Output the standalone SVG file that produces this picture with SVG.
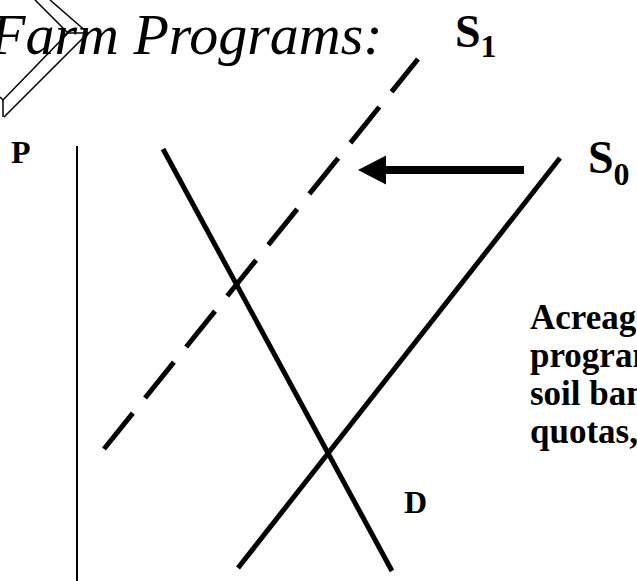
<svg xmlns="http://www.w3.org/2000/svg" width="637" height="581" viewBox="0 0 637 581">
<defs>
<style>
.lbl{font-family:"Liberation Serif","Times New Roman",serif;font-weight:bold;fill:#000}
.curve{stroke:#000;stroke-width:5;fill:none}
.thin{stroke:#000;stroke-width:1.5;fill:none}
</style>
</defs>
<rect width="637" height="581" fill="#fff"/>
<g id="chevron">
<polyline class="thin" points="35,0 68,33 3,100 0,97"/>
<polyline class="thin" points="50,0 88,33 4,117"/>
<line class="thin" x1="68" y1="33" x2="88" y2="33"/>
<line class="thin" x1="3" y1="100" x2="3" y2="117"/>
</g>
<g id="title">
<text x="-10" y="54" font-family="Liberation Serif, serif" font-style="italic" font-size="58">Farm Programs:</text>
</g>
<g id="axis">
<line x1="77" y1="146" x2="77" y2="581" stroke="#000" stroke-width="2"/>
<text class="lbl" x="11" y="163" font-size="32">P</text>
</g>
<g id="connectors">
<line id="D" class="curve" x1="163" y1="149" x2="392" y2="571"/>
<line id="S0" class="curve" x1="560" y1="158" x2="238" y2="568"/>
<line id="S1" class="curve" x1="104" y1="449" x2="418" y2="59" stroke-dasharray="46 19.5"/>
<g id="shift-arrow">
<rect x="385" y="166" width="139" height="8" fill="#000"/>
<polygon points="358,170 386,155.5 386,184.5" fill="#000"/>
</g>
</g>
<g id="label-S1"><text class="lbl" x="455" y="47" font-size="46">S<tspan font-size="32" dy="10">1</tspan></text></g>
<g id="label-S0"><text class="lbl" x="588" y="173" font-size="46">S<tspan font-size="32" dy="12">0</tspan></text></g>
<g id="label-D"><text class="lbl" x="404" y="513" font-size="32">D</text></g>
<g id="note">
<text class="lbl" font-size="35">
<tspan x="530" y="329">Acreage</tspan>
<tspan x="530" y="367">programs,</tspan>
<tspan x="530" y="405">soil bank,</tspan>
<tspan x="530" y="443">quotas,</tspan>
</text>
</g>
</svg>
